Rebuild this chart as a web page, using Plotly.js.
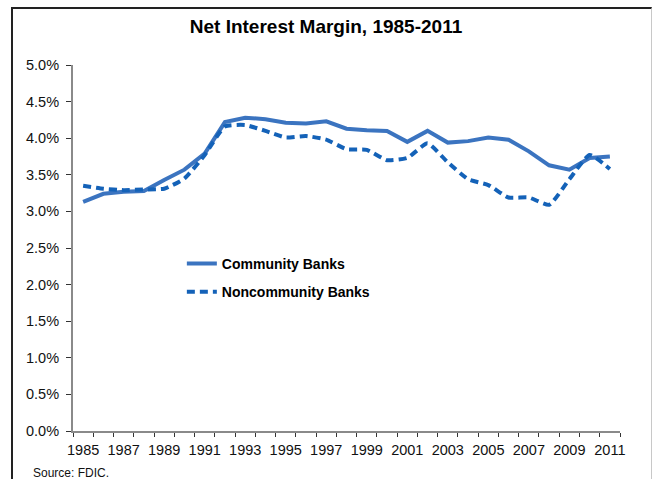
<!DOCTYPE html>
<html>
<head>
<meta charset="utf-8">
<script src="https://cdn.plot.ly/plotly-3.0.1.min.js"></script>
<style>
  html, body { margin: 0; padding: 0; background: #fff; }
  #chart { width: 652px; height: 479px; }
  #frame { position: absolute; left: 11px; top: 7px; width: 638px; height: 600px;
           border-left: 2px solid #222; border-top: 2px solid #222; border-right: 1px solid #c8c8c8;
           pointer-events: none; }
</style>
</head>
<body>
<div id="chart"></div>
<div id="frame"></div>
<script>
const years = [1985,1986,1987,1988,1989,1990,1991,1992,1993,1994,1995,1996,1997,1998,1999,
               2000,2001,2002,2003,2004,2005,2006,2007,2008,2009,2010,2011];
const communityBanks = [3.13,3.24,3.27,3.28,3.43,3.57,3.79,4.22,4.28,4.26,4.21,4.20,4.23,4.13,4.11,
                        4.10,3.95,4.10,3.94,3.96,4.01,3.98,3.82,3.63,3.57,3.73,3.75];
const noncommunityBanks = [3.35,3.31,3.29,3.30,3.31,3.45,3.77,4.16,4.18,4.10,4.01,4.03,3.98,3.85,3.84,
                           3.70,3.73,3.93,3.67,3.44,3.36,3.19,3.19,3.09,3.44,3.77,3.58];
const labelYears = [1985,1987,1989,1991,1993,1995,1997,1999,2001,2003,2005,2007,2009,2011];
const yTicks = [0,0.5,1,1.5,2,2.5,3,3.5,4,4.5,5];

const font = "Arial, 'Liberation Sans', sans-serif";
const boundaries = [];
for (let i = 0; i <= years.length; i++) boundaries.push(years[0] - 0.5 + i);

const traces = [
  { x: years, y: communityBanks, name: 'Community Banks', type: 'scatter', mode: 'lines',
    legendgroup: 'a', line: { color: '#3B74C0', width: 4 } },
  { x: years, y: noncommunityBanks, name: 'Noncommunity Banks', type: 'scatter', mode: 'lines',
    legendgroup: 'b', line: { color: '#1462B8', width: 4, dash: '8px,5px', shape: 'spline', smoothing: 0.5 } },
  { x: labelYears, y: labelYears.map(() => null), xaxis: 'x2', showlegend: false, hoverinfo: 'skip',
    type: 'scatter', mode: 'lines' }
];

const layout = {
  width: 652, height: 479,
  margin: { l: 73, r: 32, t: 65, b: 48 },
  paper_bgcolor: '#fff', plot_bgcolor: '#fff',
  font: { family: font, color: '#111', size: 14 },
  title: { text: '<b>Net Interest Margin, 1985-2011</b>', x: 0.5, xanchor: 'center', y: 0.945, yanchor: 'middle',
           font: { family: font, size: 19, color: '#000' } },
  xaxis: {
    range: [years[0] - 0.5, years[years.length - 1] + 0.5],
    tickmode: 'array', tickvals: boundaries, showticklabels: false,
    ticks: 'outside', ticklen: 4, tickcolor: '#333', tickwidth: 1,
    showline: true, linecolor: '#8a8a8a', linewidth: 2,
    showgrid: false, zeroline: false, fixedrange: true
  },
  xaxis2: {
    overlaying: 'x', matches: 'x', anchor: 'y',
    range: [years[0] - 0.5, years[years.length - 1] + 0.5],
    tickmode: 'array', tickvals: labelYears, ticktext: labelYears.map(String),
    ticks: '', showline: false, showgrid: false, zeroline: false,
    tickfont: { family: font, size: 14.5, color: '#111' }, ticklabelstandoff: 8
  },
  yaxis: {
    range: [0, 5], tickmode: 'array', tickvals: yTicks, ticktext: yTicks.map(v => v.toFixed(1) + '%'),
    ticks: 'outside', ticklen: 5, tickcolor: '#333', tickwidth: 1,
    showline: true, linecolor: '#8a8a8a', linewidth: 2,
    showgrid: false, zeroline: false, tickfont: { family: font, size: 14.5, color: '#111' },
    ticklabelstandoff: 4
  },
  legend: {
    x: 0.199, y: 0.50, xanchor: 'left', yanchor: 'top',
    bgcolor: 'rgba(0,0,0,0)', font: { family: font, size: 14, color: '#000', weight: 'bold' },
    traceorder: 'grouped', tracegroupgap: 7, itemwidth: 30
  },
  annotations: [
    { text: 'Source: FDIC.', xref: 'paper', yref: 'paper', x: -0.076, y: -0.09,
      xanchor: 'left', yanchor: 'top', showarrow: false, font: { family: font, size: 12, color: '#111' } }
  ],
  showlegend: true
};

Plotly.newPlot('chart', traces, layout, { displayModeBar: false, staticPlot: true });
</script>
</body>
</html>
